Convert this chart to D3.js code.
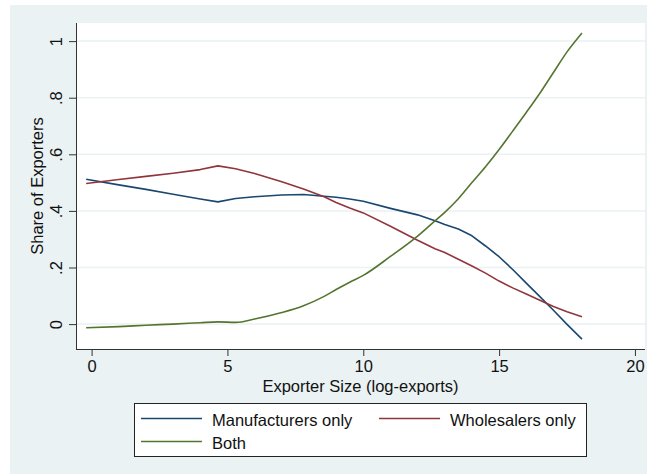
<!DOCTYPE html>
<html><head><meta charset="utf-8">
<script src="https://cdn.jsdelivr.net/npm/d3@7"></script>
<style>
html,body{margin:0;padding:0;background:#fff;}
svg{display:block;font-family:"Liberation Sans",Arial,sans-serif;}
</style></head>
<body><svg id="c" width="647" height="474"></svg>
<script>
const xValues = [-0.2, 1, 2, 3, 4, 4.65, 5.3, 6, 7, 7.8, 8.56, 9, 9.5, 10, 11, 12, 12.64, 13, 13.5, 14, 14.5, 15, 15.5, 16, 16.5, 17, 17.5, 18.05];
const manufacturers = [0.512, 0.492, 0.476, 0.459, 0.442, 0.432, 0.444, 0.450, 0.456, 0.458, 0.452, 0.448, 0.442, 0.434, 0.409, 0.386, 0.365, 0.352, 0.336, 0.312, 0.276, 0.238, 0.193, 0.145, 0.097, 0.049, -0.001, -0.053];
const wholesalers = [0.497, 0.511, 0.522, 0.533, 0.546, 0.559, 0.549, 0.532, 0.503, 0.477, 0.450, 0.430, 0.410, 0.393, 0.346, 0.296, 0.266, 0.253, 0.229, 0.205, 0.180, 0.152, 0.128, 0.106, 0.084, 0.062, 0.044, 0.026];
const both = [-0.013, -0.009, -0.004, 0.000, 0.005, 0.008, 0.006, 0.018, 0.041, 0.065, 0.098, 0.122, 0.148, 0.172, 0.239, 0.311, 0.365, 0.395, 0.443, 0.500, 0.556, 0.617, 0.682, 0.748, 0.816, 0.889, 0.962, 1.029];
const seriesNames = ["Manufacturers only", "Wholesalers only", "Both"];
const xTicks = [0, 5, 10, 15, 20];
const xTickLabels = ["0", "5", "10", "15", "20"];
const yTicks = [0, 0.2, 0.4, 0.6, 0.8, 1];
const yTickLabels = ["0", ".2", ".4", ".6", ".8", "1"];
const xTitle = "Exporter Size (log-exports)";
const yTitle = "Share of Exporters";

const colors = ["#1a476f", "#90353b", "#55752f"];
const FS = 16.5;
const svg = d3.select("#c");
const W = 647, H = 474;
const P = {l: 76, r: 645, t: 23, b: 349};

svg.append("rect").attr("x", 10).attr("y", 5).attr("width", W - 10).attr("height", H - 5).attr("fill", "#eaf2f3");
svg.append("rect").attr("x", P.l).attr("y", P.t).attr("width", P.r - P.l).attr("height", P.b - P.t).attr("fill", "#fff");

const x = d3.scaleLinear().domain([-0.574, 20.37]).range([P.l, P.r]);
const y = d3.scaleLinear().domain([-0.088, 1.064]).range([P.b, P.t]);

// gridlines
svg.append("g").selectAll("line").data(yTicks).join("line")
  .attr("x1", P.l).attr("x2", P.r)
  .attr("y1", d => y(d)).attr("y2", d => y(d))
  .attr("stroke", "#eaf2f3").attr("stroke-width", 1.5);

// series
const series = [manufacturers, wholesalers, both];
const line = d3.line().x((d, i) => x(xValues[i])).y(d => y(d)).curve(d3.curveMonotoneX);
const lineLin = d3.line().x((d, i) => x(xValues[i])).y(d => y(d));
series.forEach((s, k) => {
  svg.append("path").datum(s)
    .attr("d", k === 2 ? line : lineLin)
    .attr("fill", "none").attr("stroke", colors[k]).attr("stroke-width", 1.6)
    .attr("stroke-linejoin", "round");
});

// axes
const yAxis = d3.axisLeft(y).tickValues(yTicks).tickSize(7).tickPadding(6)
  .tickFormat((d, i) => yTickLabels[i]);
const gy = svg.append("g").attr("transform", `translate(${P.l},0)`).call(yAxis);
gy.select(".domain").attr("stroke", "#333").attr("d", `M0.5,${P.b}V${P.t}`);
gy.selectAll(".tick line").attr("stroke", "#333");
gy.selectAll(".tick text")
  .attr("x", null).attr("dy", null)
  .attr("text-anchor", "middle")
  .attr("transform", "translate(-14,0) rotate(-90)")
  .attr("font-size", FS).attr("fill", "#111")
  .attr("font-family", "'Liberation Sans',Arial,sans-serif");

const xAxis = d3.axisBottom(x).tickValues(xTicks).tickSize(7).tickPadding(4)
  .tickFormat((d, i) => xTickLabels[i]);
const gx = svg.append("g").attr("transform", `translate(0,${P.b})`).call(xAxis);
gx.select(".domain").attr("stroke", "#333").attr("d", `M${P.l},0.5H${P.r}`);
gx.selectAll(".tick line").attr("stroke", "#333");
gx.selectAll(".tick text").attr("font-size", FS).attr("fill", "#111")
  .attr("font-family", "'Liberation Sans',Arial,sans-serif").attr("dy", "0.71em");

// titles
svg.append("text").attr("x", (P.l + P.r) / 2).attr("y", 391.5).attr("text-anchor", "middle")
  .attr("font-size", FS).attr("fill", "#111").text(xTitle);
svg.append("text").attr("transform", `translate(42.5,${(P.t + P.b) / 2}) rotate(-90)`)
  .attr("text-anchor", "middle").attr("font-size", FS).attr("fill", "#111").text(yTitle);

// legend
const lg = svg.append("g");
lg.append("rect").attr("x", 134.5).attr("y", 403.5).attr("width", 452).attr("height", 53)
  .attr("fill", "#fff").attr("stroke", "#222").attr("stroke-width", 1);
const legendPos = [[141, 418.5], [379, 418.5], [141, 441.5]];
seriesNames.forEach((n, k) => {
  const [lx, ly] = legendPos[k];
  lg.append("line").attr("x1", lx).attr("x2", lx + 61).attr("y1", ly).attr("y2", ly)
    .attr("stroke", colors[k]).attr("stroke-width", 1.6);
  lg.append("text").attr("x", lx + 71).attr("y", ly + 7).attr("font-size", FS)
    .attr("fill", "#111").text(n);
});
</script></body></html>
